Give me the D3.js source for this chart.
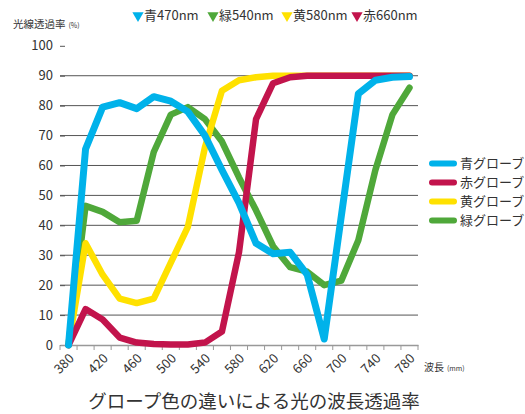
<!DOCTYPE html>
<html>
<head>
<meta charset="utf-8">
<script src="https://cdn.jsdelivr.net/npm/d3@7"></script>
<style>
  html, body { margin: 0; padding: 0; background: #fff; }
  svg { display: block; font-family: "Noto Sans CJK JP", "Noto Sans", sans-serif; }
</style>
</head>
<body>
<div id="chart"></div>
<script>
// wavelength categories (nm)
var wavelengths = [380, 400, 420, 440, 460, 480, 500, 520, 540, 560, 580,
                   600, 620, 640, 660, 680, 700, 720, 740, 760, 780];

// transmission (%) per glove colour
var blueGlove   = [0, 65.5, 79.5, 81, 79, 83, 81.5, 78, 70, 58.5, 47.5, 34, 30.5, 31, 23.5, 2, 43, 84, 88.5, 89.5, 89.7];
var redGlove    = [0, 12, 8.5, 2.5, 0.8, 0.3, 0.2, 0.2, 0.8, 4.5, 31, 75.5, 87.5, 89.5, 90, 90, 90, 90, 90, 90, 90];
var yellowGlove = [0, 34, 23.5, 15.5, 14, 15.5, 27.5, 39.5, 66, 85, 88.5, 89.5, 90, 90, 90, 90, 90, 90, 90, 90, 90];
var greenGlove  = [0, 46.5, 44.5, 41, 41.5, 64.5, 77, 79.5, 75.5, 68, 56, 45, 33, 26, 24.5, 20, 21.5, 35, 58.5, 77, 86];

var seriesNames  = ['青グローブ', '赤グローブ', '黄グローブ', '緑グローブ'];
var seriesColors = ['#00b2ea', '#c2144c', '#ffe100', '#4fa83a'];

var yTicks = [0, 10, 20, 30, 40, 50, 60, 70, 80, 90, 100];

var topLegend = [
  { label: '青470nm', color: '#00b2ea' },
  { label: '緑540nm', color: '#4fa83a' },
  { label: '黄580nm', color: '#ffe100' },
  { label: '赤660nm', color: '#c2144c' }
];

var W = 525, H = 414;
var plot = { left: 60, right: 418, top: 45.8, bottom: 345 };

var svg = d3.select('#chart').append('svg')
  .attr('width', W).attr('height', H);

var x = d3.scaleBand()
  .domain(wavelengths)
  .range([plot.left, plot.right]);

var y = d3.scaleLinear()
  .domain([0, 100])
  .range([plot.bottom, plot.top]);

var cx = function(d) { return x(d) + x.bandwidth() / 2; };

// grid lines (10..90)
svg.append('g')
  .selectAll('line')
  .data(yTicks.filter(function(t) { return t > 0 && t < 100; }))
  .enter().append('line')
  .attr('x1', plot.left).attr('x2', plot.right)
  .attr('y1', function(d) { return y(d); })
  .attr('y2', function(d) { return y(d); })
  .attr('stroke', '#555').attr('stroke-width', 1);

// y axis: labels + short inner ticks
var yAxis = svg.append('g')
  .attr('transform', 'translate(' + plot.left + ',0)')
  .call(d3.axisRight(y).tickValues(yTicks).tickSize(5).tickFormat(''));
yAxis.select('.domain').remove();
yAxis.selectAll('line').attr('stroke', '#555');

svg.append('g')
  .selectAll('text')
  .data(yTicks)
  .enter().append('text')
  .attr('x', 53)
  .attr('y', function(d) { return y(d); })
  .attr('dy', '0.36em')
  .attr('text-anchor', 'end')
  .attr('font-size', 13)
  .attr('fill', '#333')
  .text(function(d) { return d; });

// x axis
var xAxis = svg.append('g')
  .attr('transform', 'translate(0,' + plot.bottom + ')')
  .call(d3.axisBottom(x).tickSize(0).tickFormat(''));
xAxis.select('.domain').attr('stroke', '#999').attr('stroke-width', 1.5);

var bounds = wavelengths.map(function(d) { return x(d); }).concat([plot.right]);
svg.append('g')
  .selectAll('line')
  .data(bounds)
  .enter().append('line')
  .attr('x1', function(d) { return d; }).attr('x2', function(d) { return d; })
  .attr('y1', plot.bottom).attr('y2', plot.bottom + 5)
  .attr('stroke', '#999').attr('stroke-width', 1);

svg.append('g')
  .selectAll('text')
  .data(wavelengths.filter(function(d, i) { return i % 2 === 0; }))
  .enter().append('text')
  .attr('transform', function(d) {
    return 'translate(' + (cx(d) + 3) + ',' + (plot.bottom + 11) + ') rotate(-45)';
  })
  .attr('text-anchor', 'end')
  .attr('dy', '0.35em')
  .attr('font-size', 13)
  .attr('fill', '#333')
  .text(function(d) { return d; });

// axis titles
var yt = svg.append('text')
  .attr('x', 13).attr('y', 28)
  .attr('fill', '#333');
yt.append('tspan').attr('font-size', 10.5).text('光線透過率');
yt.append('tspan').attr('font-size', 7).attr('dx', 3).text('(%)');

var xt = svg.append('text')
  .attr('x', 424).attr('y', 371)
  .attr('fill', '#333');
xt.append('tspan').attr('font-size', 10).text('波長');
xt.append('tspan').attr('font-size', 7).attr('dx', 3).text('(mm)');

// chart title
svg.append('text')
  .attr('x', 254).attr('y', 408)
  .attr('text-anchor', 'middle')
  .attr('font-size', 18.5)
  .attr('fill', '#333')
  .text('グロープ色の違いによる光の波長透過率');

// lines (draw order: green, yellow, red, blue)
var allSeries = [blueGlove, redGlove, yellowGlove, greenGlove];
var drawOrder = [3, 2, 1, 0];
var line = d3.line()
  .x(function(d, i) { return cx(wavelengths[i]); })
  .y(function(d) { return y(d); });

drawOrder.forEach(function(k) {
  svg.append('path')
    .datum(allSeries[k])
    .attr('d', line)
    .attr('fill', 'none')
    .attr('stroke', seriesColors[k])
    .attr('stroke-width', k === 0 ? 7 : 6.5)
    .attr('stroke-linejoin', 'round')
    .attr('stroke-linecap', 'round');
});

// right legend
var lg = svg.append('g');
seriesNames.forEach(function(name, i) {
  var ly = 163.5 + i * 19;
  lg.append('line')
    .attr('x1', 432).attr('x2', 454)
    .attr('y1', ly).attr('y2', ly)
    .attr('stroke', seriesColors[i])
    .attr('stroke-width', 6)
    .attr('stroke-linecap', 'round');
  lg.append('text')
    .attr('x', 460).attr('y', ly)
    .attr('dy', '0.36em')
    .attr('font-size', 13)
    .attr('fill', '#333')
    .text(name);
});

// top legend
var tx = [138, 213, 287, 357];
topLegend.forEach(function(d, i) {
  var g = svg.append('g').attr('transform', 'translate(' + tx[i] + ',15.5)');
  g.append('path')
    .attr('d', d3.symbol().type(d3.symbolTriangle).size(55)())
    .attr('transform', 'rotate(180)')
    .attr('fill', d.color);
  g.append('text')
    .attr('x', 6).attr('dy', '0.36em')
    .attr('font-size', 13)
    .attr('fill', '#333')
    .text(d.label);
});
</script>
</body>
</html>
